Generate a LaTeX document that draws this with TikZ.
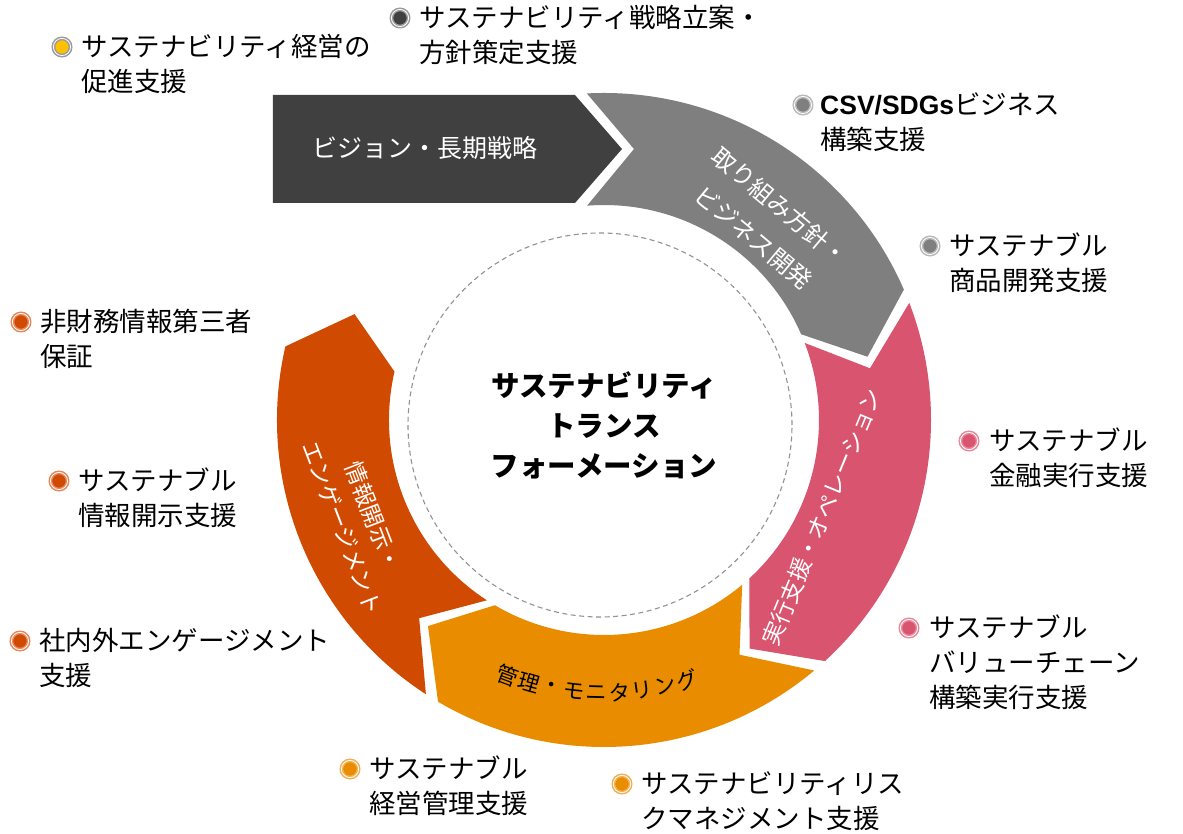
\documentclass[tikz,border=0pt]{standalone}
\usepackage{fontspec}
\setmainfont{Noto Sans CJK JP}
\newfontfamily\latb{Liberation Sans}
\usetikzlibrary{calc}
\definecolor{cdark}{HTML}{404040}
\definecolor{cgray}{HTML}{7F7F7F}
\definecolor{cpink}{HTML}{D9546E}
\definecolor{corange}{HTML}{E98C00}
\definecolor{cred}{HTML}{D04A02}
\definecolor{cyel}{HTML}{FFC000}
\definecolor{rgray}{HTML}{9A9A9A}
\definecolor{rpink}{HTML}{E8899B}
\definecolor{rorange}{HTML}{F2B052}
\definecolor{rred}{HTML}{E6875A}
\newcommand\ringseg[3]{\fill[#1] (#2:327) arc[start angle=#2, end angle=#3, radius=327] -- ({#3-10}:271) -- (#3:215) arc[start angle=#3, end angle=#2, radius=215] -- ({#2-10}:271) -- cycle;}
\begin{document}
\begin{tikzpicture}[x=1pt,y=1pt,
  lbl/.style={font=\fontsize{26.5}{35}\selectfont, align=left, anchor=north west, inner sep=0pt, text=black},
  bul/.style 2 args={circle, inner sep=0pt, minimum size=17.2pt, fill=#1, draw=#2, line width=1.5pt, double=white, double distance=0.8pt},
  segtxt/.style={text=white, align=center, inner sep=0pt, font=\fontsize{24}{31}\selectfont},
]
\useasboundingbox (-604,-414) rectangle (579,420);
\fill[white] (-604,-414) rectangle (579,420);

% ring segments
\fill[cdark] (-331,325) -- (-29,325) -- (18,271) -- (-29,217) -- (-331,217) -- cycle;
\fill[cgray] (93:327) arc[start angle=93, end angle=23.5, radius=327] -- (13.5:271) -- (23.5:215) arc[start angle=23.5, end angle=94.5, radius=215] -- (30,271) -- cycle;
\ringseg{cpink}{21}{-47.5}
\ringseg{corange}{-50}{-120.5}
\ringseg{cred}{-123}{-193}

% core
\node[circle, draw=gray!85, dash pattern=on 5pt off 3.5pt, line width=1.1pt, minimum size=384pt, inner sep=0pt] (core) at (-4,-5) {};
\node[font=\fontsize{28.5}{40}\selectfont\bfseries, align=center, inner sep=0pt] (title) at (0,-5) {サステナビリティ\\トランス\\フォーメーション};

% segment labels
\node[segtxt, font=\fontsize{25}{30}\selectfont] (s0) at (-179,272) {ビジョン・長期戦略};
\node[segtxt, font=\fontsize{24}{41}\selectfont, rotate=-40] (s1) at (163,198) {取り組み方針・\\ビジネス開発};
\node[segtxt, font=\fontsize{23}{29}\selectfont, rotate=67.6] (s2) at (218,-97) {実行支援・オペレーション};
\node[segtxt, font=\fontsize{23}{33}\selectfont, rotate=-69] (s4) at (-246,-102) {情報開示・\\エンゲージメント};
\foreach \c [count=\i from 0] in {管,理,・,モ,ニ,タ,リ,ン,グ} {
  \pgfmathsetmacro\ang{-110.7+4.8*\i}
  \node[font=\fontsize{21.5}{26}\selectfont, rotate=\ang+90, inner sep=0pt] (m\i) at (\ang:273) {\c};
}

% outer labels
\node[bul={cyel}{rgray}] (b1) at (-542,373) {};
\node[lbl] (t1) at ($(b1)+(19,13)$) {サステナビリティ経営の\\促進支援};
\node[bul={cdark}{rgray}] (b2) at (-204,402) {};
\node[lbl] (t2) at ($(b2)+(19,13)$) {サステナビリティ戦略立案・\\方針策定支援};
\node[bul={cgray}{rgray!70}] (b3) at (199,315) {};
\node[lbl] (t3) at ($(b3)+(17,13)$) {{\latb\bfseries CSV/SDGs}ビジネス\\構築支援};
\node[bul={cgray}{rgray!70}] (b4) at (326,174) {};
\node[lbl] (t4) at ($(b4)+(19,13)$) {サステナブル\\商品開発支援};
\node[bul={cpink}{rpink}] (b5) at (365,-21) {};
\node[lbl] (t5) at ($(b5)+(20,13)$) {サステナブル\\金融実行支援};
\node[bul={cpink}{rpink}] (b6) at (305,-208) {};
\node[lbl] (t6) at ($(b6)+(20,13)$) {サステナブル\\バリューチェーン\\構築実行支援};
\node[bul={corange}{rorange}] (b7) at (-254,-349) {};
\node[lbl] (t7) at ($(b7)+(19,13)$) {サステナブル\\経営管理支援};
\node[bul={corange}{rorange}] (b8) at (18,-364) {};
\node[lbl] (t8) at ($(b8)+(19,13)$) {サステナビリティリス\\クマネジメント支援};
\node[bul={cred}{rred}] (b9) at (-584,-221) {};
\node[lbl] (t9) at ($(b9)+(19,13)$) {社内外エンゲージメント\\支援};
\node[bul={cred}{rred}] (b10) at (-545,-61) {};
\node[lbl] (t10) at ($(b10)+(19,13)$) {サステナブル\\情報開示支援};
\node[bul={cred}{rred}] (b11) at (-583,98) {};
\node[lbl] (t11) at ($(b11)+(19,13)$) {非財務情報第三者\\保証};
\end{tikzpicture}
\end{document}
